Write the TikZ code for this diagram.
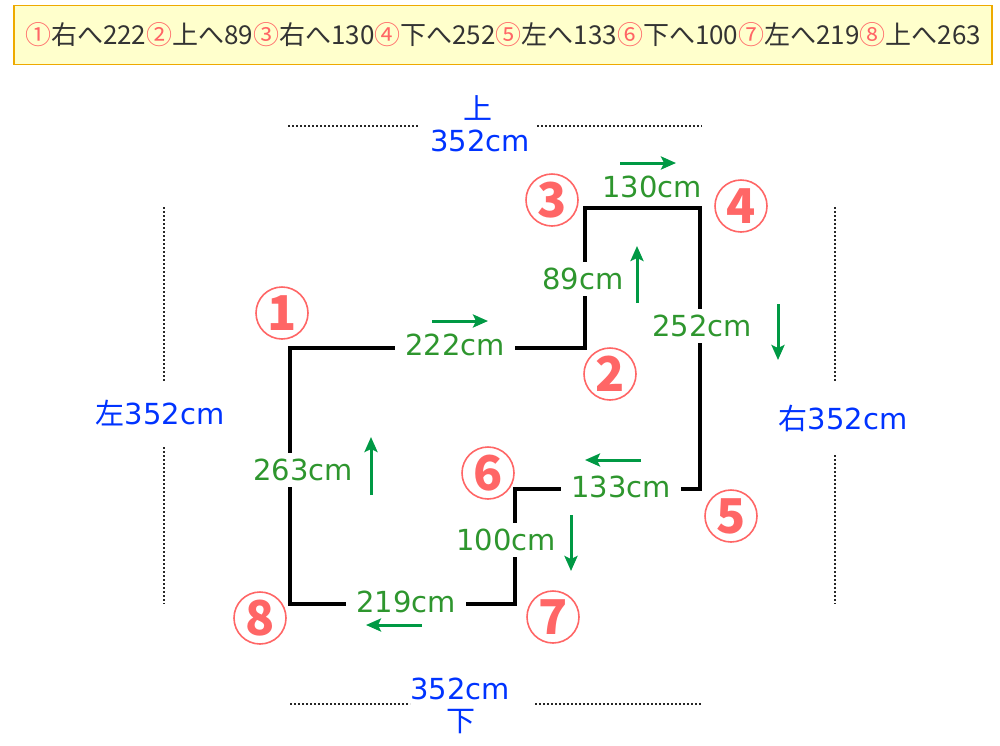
\documentclass[tikz,border=0pt]{standalone}
\usepackage{fontspec}
\setmainfont{DejaVu Sans}
\newfontfamily\jp{Noto Sans CJK JP}
\usetikzlibrary{arrows.meta}
\definecolor{numred}{HTML}{FF6666}
\definecolor{lengreen}{HTML}{2E962E}
\definecolor{arrgreen}{HTML}{009944}
\definecolor{dimblue}{HTML}{0033FF}
\definecolor{boxyellow}{HTML}{FFFFCC}
\definecolor{boxorange}{HTML}{EEAA00}
\newcommand{\hnum}[1]{{\color{numred}#1}}
\tikzset{x=1pt,y=-1pt,
  wall/.style={line width=4.2pt,line join=miter},
  len/.style={text=lengreen,fill=white,inner xsep=10pt,inner ysep=6pt,font=\fontsize{29}{30}\selectfont},
  dir/.style={-{Stealth[length=15pt,width=13pt,inset=3pt]},line width=3pt,arrgreen},
  corner/.style={circle,draw=numred,line width=1.6pt,text=numred,minimum size=52pt,inner sep=0pt,font=\jp\bfseries\fontsize{48}{48}\selectfont},
  dim/.style={text=dimblue,inner sep=0pt,font=\fontsize{29}{30}\selectfont},
  dots/.style={line width=2pt,black!85,dash pattern=on 2pt off 2pt},
  hdr/.style={draw=boxorange,fill=boxyellow,line width=1.5pt,minimum width=978pt,minimum height=59pt,text=black!80,font=\jp\fontsize{26}{27}\selectfont}
}
\begin{document}
\begin{tikzpicture}
  \useasboundingbox (0,0) rectangle (1000,745);

  % header
  \node[hdr] (head) at (503,35) {\hnum{①}右へ222\hnum{②}上へ89\hnum{③}右へ130\hnum{④}下へ252\hnum{⑤}左へ133\hnum{⑥}下へ100\hnum{⑦}左へ219\hnum{⑧}上へ263};

  % corners of the room
  \coordinate (c1) at (290,348);
  \coordinate (c2) at (585,348);
  \coordinate (c3) at (585,208);
  \coordinate (c4) at (700,208);
  \coordinate (c5) at (700,489);
  \coordinate (c6) at (515,489);
  \coordinate (c7) at (515,604);
  \coordinate (c8) at (290,604);
  \draw[wall] (c1) -- (c2) -- (c3) -- (c4) -- (c5) -- (c6) -- (c7) -- (c8) -- cycle;

  % lengths
  \node[len] (l12) at (455,345) {222cm};
  \node[len] (l23) at (583,279) {89cm};
  \node[len,fill=none] (l34) at (652,187) {130cm};
  \node[len] (l45) at (702,326) {252cm};
  \node[len] (l56) at (621,487) {133cm};
  \node[len] (l67) at (506,540) {100cm};
  \node[len] (l78) at (406,602) {219cm};
  \node[len] (l81) at (303,470) {263cm};

  % directions
  \draw[dir] (432,321) -- (488,321);
  \draw[dir] (637,303) -- (637,246);
  \draw[dir] (620,163) -- (676,163);
  \draw[dir] (778,304) -- (778,360);
  \draw[dir] (641,460) -- (585,460);
  \draw[dir] (571,515) -- (571,571);
  \draw[dir] (422,625) -- (366,625);
  \draw[dir] (371,495) -- (371,437);

  % numbers
  \node[corner] (n1) at (282,313) {1};
  \node[corner] (n2) at (610,374) {2};
  \node[corner] (n3) at (552,200) {3};
  \node[corner] (n4) at (741,206) {4};
  \node[corner] (n5) at (731,516) {5};
  \node[corner] (n6) at (488,473) {6};
  \node[corner] (n7) at (553,617) {7};
  \node[corner] (n8) at (260,618) {8};

  % outer sizes
  \node[dim] (topk) at (478,108) {\jp 上};
  \node[dim] (top) at (480,141) {352cm};
  \draw[dots] (288,126) -- (418,126);
  \draw[dots] (537,126) -- (702,126);

  \node[dim] (bot) at (460,689) {352cm};
  \node[dim] (botk) at (461,722) {\jp 下};
  \draw[dots] (290,704) -- (410,704);
  \draw[dots] (535,704) -- (702,704);

  \node[dim] (left) at (160,413) {{\jp 左}352cm};
  \draw[dots] (164,207) -- (164,382);
  \draw[dots] (164,447) -- (164,604);

  \node[dim] (right) at (843,418) {{\jp 右}352cm};
  \draw[dots] (835,207) -- (835,382);
  \draw[dots] (835,455) -- (835,604);
\end{tikzpicture}
\end{document}
